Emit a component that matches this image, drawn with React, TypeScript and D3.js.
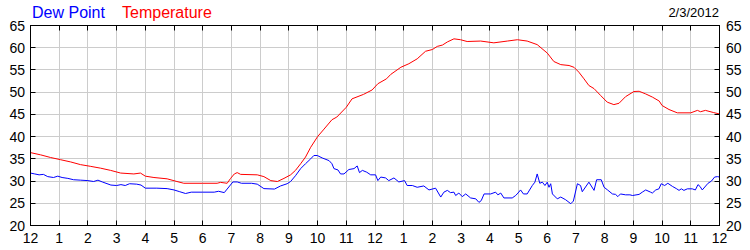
import React from "react";
import * as d3 from "d3";

const hourLabels = ["12","1","2","3","4","5","6","7","8","9","10","11","12","1","2","3","4","5","6","7","8","9","10","11","12"];
const yTicks = [20, 25, 30, 35, 40, 45, 50, 55, 60, 65];
const dateLabel = "2/3/2012";
const legendLabels = ["Dew Point", "Temperature"];

const tempHours = [0,0.35,0.7,1.05,1.4,1.74,2.1,2.44,2.79,3.14,3.6,3.83,4.0,4.3,4.76,5.1,5.34,6.0,6.5,6.62,6.85,6.97,7.1,7.2,7.32,7.9,8.13,8.37,8.6,8.83,9.06,9.23,9.41,9.58,9.76,10.0,10.2,10.5,10.67,11.0,11.2,11.6,11.9,12.1,12.4,12.55,12.9,13.18,13.47,13.76,14.0,14.17,14.35,14.52,14.75,14.98,15.21,15.68,16.14,16.61,16.96,17.3,17.65,18.0,18.23,18.47,18.76,18.93,19.1,19.28,19.45,19.63,19.86,20.09,20.32,20.5,20.73,21.02,21.2,21.43,21.66,21.9,22.0,22.24,22.53,23.0,23.23,23.34,23.51,23.8,24];
const tempValues = [36.4,35.9,35.3,34.8,34.3,33.7,33.3,32.9,32.4,31.8,31.6,31.8,31.1,30.8,30.5,29.9,29.5,29.5,29.5,29.7,29.5,30.6,31.6,31.9,31.5,31.4,31.0,30.1,29.9,30.6,31.4,32.4,33.9,35.4,37.6,40.0,41.5,43.8,44.4,46.6,48.5,49.5,50.5,51.9,53.0,54.0,55.6,56.4,57.5,59.2,59.6,60.3,60.6,61.3,62.0,61.8,61.4,61.5,61.1,61.5,61.8,61.5,60.7,58.8,56.9,56.2,56.0,55.6,54.5,53.0,51.5,50.8,49.25,47.75,47.2,47.5,49.0,50.15,50.2,49.6,48.9,48.0,47.0,46.1,45.35,45.35,45.9,45.6,45.9,45.4,45.1];

const dewHours = [0,0.15,0.3,0.45,0.6,0.8,0.95,1.1,1.3,1.5,1.75,2.0,2.2,2.35,2.5,2.8,3.0,3.15,3.3,3.45,3.7,3.85,4.0,4.4,4.76,5.0,5.2,5.4,5.6,6.0,6.4,6.55,6.75,6.85,7.05,7.2,7.35,7.7,7.9,8.13,8.5,8.71,8.94,9.06,9.23,9.41,9.58,9.76,9.87,9.99,10.16,10.4,10.5,10.57,10.71,10.8,10.92,11.09,11.27,11.38,11.46,11.56,11.71,11.85,12.02,12.1,12.2,12.37,12.48,12.66,12.83,13.03,13.12,13.3,13.47,13.7,13.88,14.11,14.29,14.4,14.52,14.63,14.75,14.81,14.92,15.04,15.16,15.33,15.51,15.62,15.7,15.8,16.03,16.2,16.28,16.38,16.49,16.78,16.9,16.98,17.07,17.17,17.3,17.48,17.57,17.65,17.74,17.83,17.92,18.0,18.06,18.12,18.18,18.35,18.47,18.64,18.82,18.91,19.05,19.16,19.22,19.45,19.63,19.72,19.88,19.98,20.1,20.27,20.38,20.46,20.55,20.73,20.88,20.97,21.2,21.31,21.43,21.6,21.66,21.78,21.89,21.97,22.09,22.2,22.36,22.51,22.59,22.67,22.76,22.88,23.05,23.16,23.25,23.32,23.4,23.6,23.72,23.83,23.93,24];
const dewValues = [31.8,31.6,31.4,31.5,31.0,30.8,31.1,30.8,30.6,30.3,30.2,30.1,29.9,30.2,29.8,29.1,29.0,29.2,29.0,29.4,29.3,29.1,28.4,28.4,28.3,28.0,27.6,27.2,27.5,27.5,27.5,27.7,27.4,28.2,29.8,29.8,29.5,29.5,29.3,28.3,28.2,28.9,29.4,29.9,31.2,32.8,33.9,35.0,35.75,35.75,35.2,34.6,33.9,32.8,32.5,31.6,31.6,32.6,32.8,33.4,31.9,32.4,32.0,31.4,31.4,30.1,30.9,30.7,30.1,30.7,29.8,30.1,29.0,29.0,28.6,28.9,28.0,28.4,26.4,27.5,27.9,27.4,27.5,26.75,27.3,26.5,27.1,26.2,26.0,25.2,25.6,27.1,27.1,27.5,26.9,27.3,26.2,26.2,26.75,27.3,28.0,27.1,27.1,29.0,29.75,31.6,29.5,29.75,29.0,29.75,28.6,29.4,27.1,26.0,26.4,25.8,24.9,25.5,29.4,29.0,27.6,29.75,27.9,30.3,30.3,28.6,28.0,27.1,27.0,26.5,27.1,26.9,26.9,26.75,27.0,27.5,28.0,27.5,27.3,28.0,28.25,29.4,29.0,29.5,28.8,28.25,27.9,28.25,27.9,28.25,28.25,28.0,29.2,28.8,28.0,29.5,30.0,30.9,31.0,30.9];

const W = 750, H = 250;
const left = 30.5, right = 719.5, top = 25.5, bottom = 225.5;
const FONT = "Arial, 'Liberation Sans', sans-serif";

export default function App() {
  const x = d3.scaleLinear().domain([0, 24]).range([left, right]);
  const y = d3.scaleLinear().domain([20, 65]).range([bottom, top]);
  const hours = d3.range(hourLabels.length);
  const snap = (v: number) => Math.round(v - 0.5) + 0.5;

  const tempData = tempHours.map((h, i) => [h, tempValues[i]] as [number, number]);
  const dewData = dewHours.map((h, i) => [h, dewValues[i]] as [number, number]);
  const line = d3.line<[number, number]>().x(d => x(d[0])).y(d => y(d[1]));

  return (
    <svg width={W} height={H} style={{ position: "absolute", left: 0, top: 0, background: "#fff" }}>
      <rect x={0} y={0} width={W} height={H} fill="#fff" />
      {/* grid */}
      {hours.slice(1, -1).map(h => (
        <line key={"gx" + h} x1={snap(x(h))} x2={snap(x(h))} y1={top} y2={bottom} stroke="#cccccc" strokeWidth={1} />
      ))}
      {yTicks.slice(1, -1).map(v => (
        <line key={"gy" + v} x1={left} x2={right} y1={snap(y(v))} y2={snap(y(v))} stroke="#cccccc" strokeWidth={1} />
      ))}
      {/* series */}
      <path d={line(dewData) || ""} fill="none" stroke="#0000ff" strokeWidth={1} />
      <path d={line(tempData) || ""} fill="none" stroke="#ff0000" strokeWidth={1} />
      {/* frame */}
      <rect x={left} y={top} width={right - left} height={bottom - top} fill="none" stroke="#000" strokeWidth={1} />
      {/* ticks */}
      {hours.slice(1, -1).map(h => (
        <g key={"tx" + h}>
          <line x1={snap(x(h))} x2={snap(x(h))} y1={top} y2={top + 5} stroke="#000" />
          <line x1={snap(x(h))} x2={snap(x(h))} y1={bottom} y2={bottom - 5} stroke="#000" />
        </g>
      ))}
      {yTicks.slice(1, -1).map(v => (
        <g key={"ty" + v}>
          <line x1={left} x2={left + 5} y1={snap(y(v))} y2={snap(y(v))} stroke="#000" />
          <line x1={right} x2={right - 5} y1={snap(y(v))} y2={snap(y(v))} stroke="#000" />
        </g>
      ))}
      {/* tick labels */}
      {hourLabels.map((t, i) => (
        <text key={"lx" + i} x={x(i)} y={243} textAnchor="middle" fontFamily={FONT} fontSize={14} fill="#000">{t}</text>
      ))}
      {yTicks.map(v => (
        <g key={"ly" + v}>
          <text x={25} y={y(v) + 5} textAnchor="end" fontFamily={FONT} fontSize={14} fill="#000">{v}</text>
          <text x={726} y={y(v) + 5} textAnchor="start" fontFamily={FONT} fontSize={14} fill="#000">{v}</text>
        </g>
      ))}
      {/* legend */}
      <text x={32} y={18} fontFamily={FONT} fontSize={16} fill="#0000ff">{legendLabels[0]}</text>
      <text x={122} y={18} fontFamily={FONT} fontSize={16} fill="#ff0000">{legendLabels[1]}</text>
      <text x={719} y={17} textAnchor="end" fontFamily={FONT} fontSize={13} fill="#000">{dateLabel}</text>
    </svg>
  );
}
